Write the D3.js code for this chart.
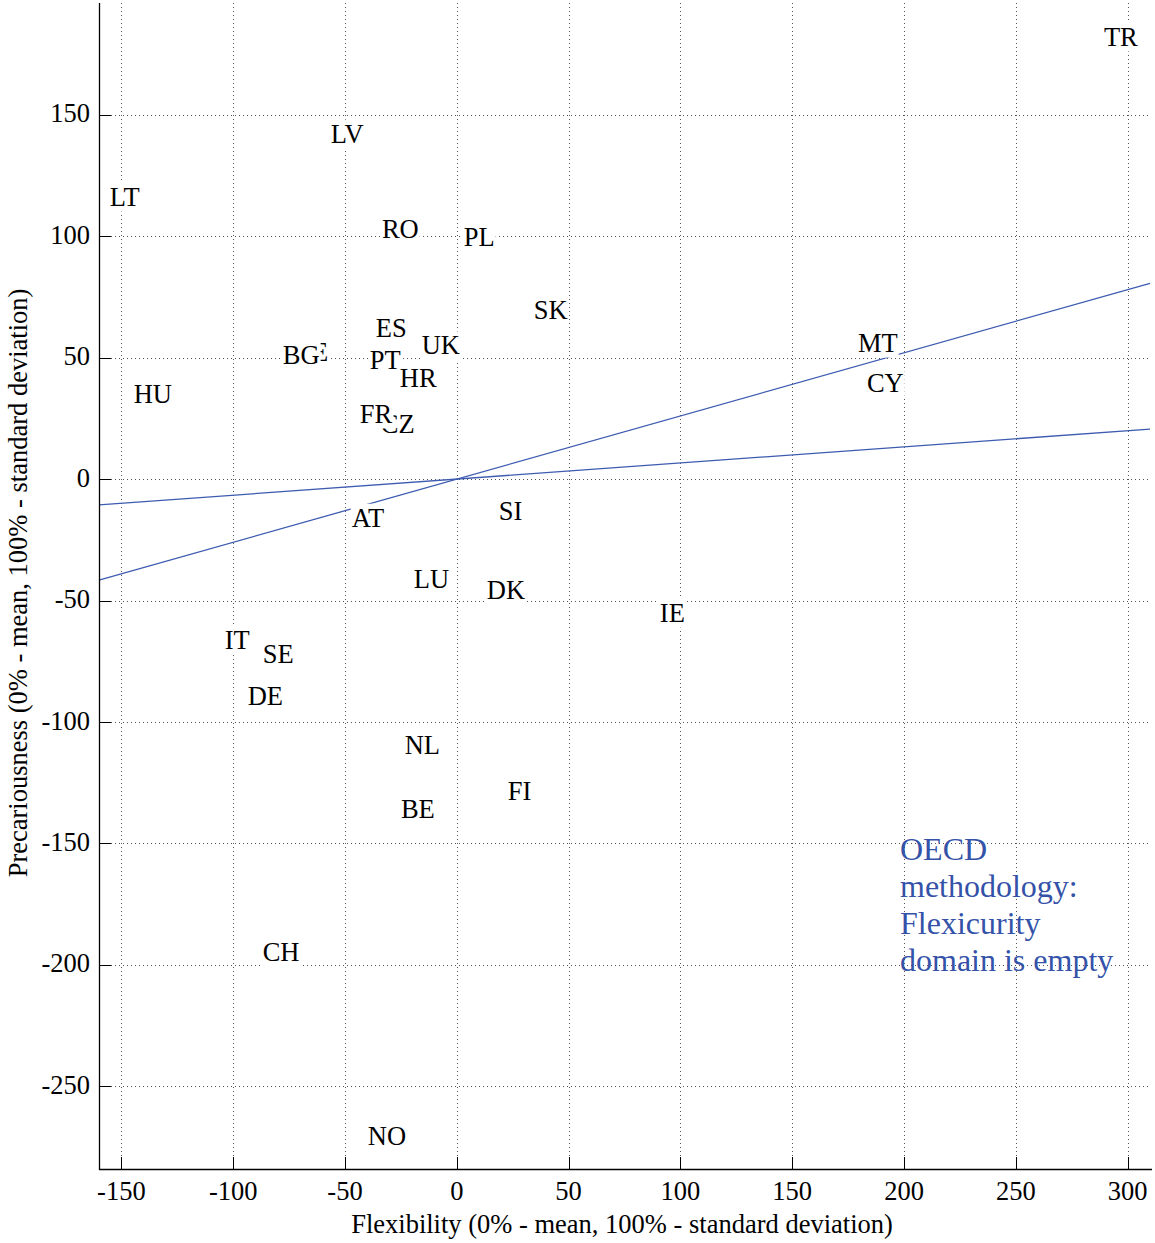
<!DOCTYPE html>
<html><head><meta charset="utf-8">
<script src="https://cdn.jsdelivr.net/npm/d3@7"></script>
<style>body{margin:0;background:#fff}svg{display:block}</style>
</head><body>
<svg id="c" width="1155" height="1243"></svg>
<script>
// Country labels (drawn in this order; later labels overlap earlier ones)
const countries = ["TR","LV","LT","RO","PL","SK","ES","UK","EE","BG","PT","HR","HU","CZ","FR","MT","CY","AT","SI","LU","DK","IE","IT","SE","DE","NL","FI","BE","CH","NO"];
const flexibility = [289.4,-56.4,-155.2,-33.5,3.1,34.4,-36.2,-15.7,-72.0,-77.8,-38.9,-25.5,-144.5,-34.0,-43.4,179.4,183.4,-47.0,18.8,-19.2,13.4,90.8,-103.8,-86.8,-93.5,-23.3,22.8,-25.0,-86.8,-39.8];
const precariousness = [182.0,142.0,116.1,102.9,99.6,69.6,62.2,54.8,52.3,51.0,49.0,41.6,35.0,22.6,26.8,56.0,39.5,-16.1,-13.2,-41.2,-45.7,-55.2,-66.3,-72.0,-89.3,-109.5,-128.4,-135.9,-194.7,-270.5];
// Two straight lines through the origin (endpoints in data units)
const lineX = [-160, 310];
const line1Y = [-41.6, 80.6];
const line2Y = [-10.6, 20.6];
const xTicks = [-150,-100,-50,0,50,100,150,200,250,300];
const yTicks = [-250,-200,-150,-100,-50,0,50,100,150];
const note = ["OECD","methodology:","Flexicurity","domain is empty"];
const noteAt = [198.2, -156.8];

const svg = d3.select("#c");
const FONT = "'Liberation Serif','Times New Roman',serif";
const L = 99, R = 1150, T = 3, B = 1169;
const x = d3.scaleLinear().domain([-160, 310]).range([L, R]);
const y = d3.scaleLinear().domain([-284, 196]).range([B, T]);

// grid
const grid = svg.append("g").attr("stroke","#555").attr("stroke-width",1).attr("stroke-dasharray","1,3");
grid.selectAll(".gx").data(xTicks).join("line")
  .attr("x1",d=>Math.round(x(d))+0.5).attr("x2",d=>Math.round(x(d))+0.5).attr("y1",T).attr("y2",B);
grid.selectAll(".gy").data(yTicks).join("line")
  .attr("y1",d=>Math.round(y(d))+0.5).attr("y2",d=>Math.round(y(d))+0.5).attr("x1",L).attr("x2",R);

// lines
const lineGen = d3.line().x(d=>x(d[0])).y(d=>y(d[1]));
[line1Y, line2Y].forEach(ys=>{
  svg.append("path").datum(lineX.map((v,i)=>[v, ys[i]]))
    .attr("d", lineGen).attr("fill","none").attr("stroke","#3d5bb0").attr("stroke-width",1.3);
});

// labels with white background
const labG = svg.append("g");
countries.forEach((c,i)=>{
  const g = labG.append("g").attr("transform",`translate(${x(flexibility[i])},${y(precariousness[i])})`);
  const rect = g.append("rect").attr("fill","#fff");
  const t = g.append("text").attr("x",0).attr("y",8.5).attr("font-family",FONT).attr("font-size",26.5).attr("fill","#000").text(c);
  const bb = t.node().getBBox();
  rect.attr("x",bb.x-1).attr("y",bb.y+1).attr("width",bb.width+2).attr("height",bb.height-1);
});

// axes
const ax = svg.append("g").attr("font-family",FONT).attr("font-size",26.5);
ax.append("line").attr("x1",L).attr("x2",R+2).attr("y1",B+0.5).attr("y2",B+0.5).attr("stroke","#000").attr("stroke-width",1.3);
ax.append("line").attr("x1",L+0.5).attr("x2",L+0.5).attr("y1",T).attr("y2",B+1).attr("stroke","#000").attr("stroke-width",1.3);
ax.selectAll(".tx").data(xTicks).join("line")
  .attr("x1",d=>Math.round(x(d))+0.5).attr("x2",d=>Math.round(x(d))+0.5).attr("y1",B).attr("y2",B-12).attr("stroke","#000");
ax.selectAll(".ty").data(yTicks).join("line")
  .attr("y1",d=>Math.round(y(d))+0.5).attr("y2",d=>Math.round(y(d))+0.5).attr("x1",L).attr("x2",L+12).attr("stroke","#000");
ax.selectAll(".lx").data(xTicks).join("text")
  .attr("x",d=>x(d)).attr("y",1200).attr("text-anchor","middle").text(d=>d);
ax.selectAll(".ly").data(yTicks).join("text")
  .attr("x",90).attr("y",d=>y(d)+7.5).attr("text-anchor","end").text(d=>d);
ax.append("text").attr("x",622).attr("y",1233).attr("text-anchor","middle")
  .text("Flexibility (0% - mean, 100% - standard deviation)");
ax.append("text").attr("transform","translate(27,583) rotate(-90)").attr("text-anchor","middle")
  .text("Precariousness (0% - mean, 100% - standard deviation)");

// note
svg.append("g").selectAll("text").data(note).join("text")
  .attr("x",x(noteAt[0])).attr("y",(d,i)=>y(noteAt[1])+i*37)
  .attr("font-family",FONT).attr("font-size",32).attr("fill","#3452a8").text(d=>d);
</script>
</body></html>
